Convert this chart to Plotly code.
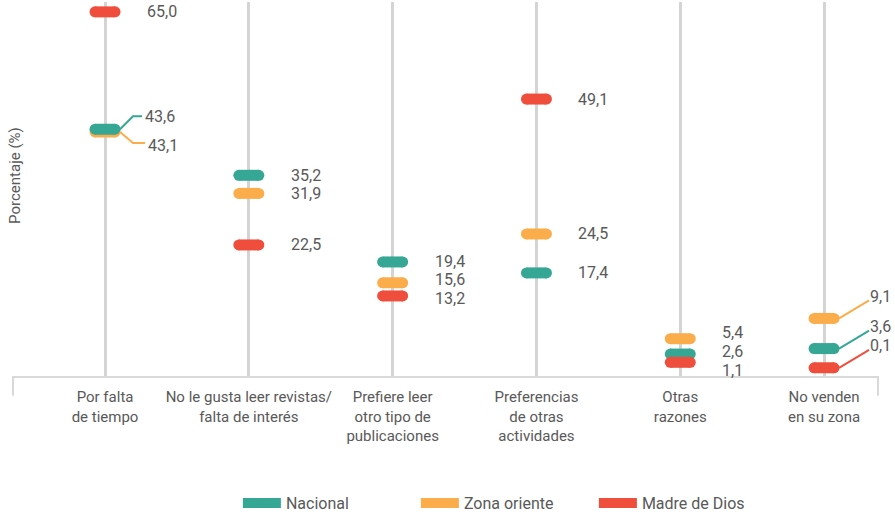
import plotly.graph_objects as go

# ---------------- data ----------------
categories = [
    "Por falta<br>de tiempo",
    "No le gusta leer revistas/<br>falta de interés",
    "Prefiere leer<br>otro tipo de<br>publicaciones",
    "Preferencias<br>de otras<br>actividades",
    "Otras<br>razones",
    "No venden<br>en su zona",
]
series_names = ["Nacional", "Zona oriente", "Madre de Dios"]
nacional = [43.6, 35.2, 19.4, 17.4, 2.6, 3.6]
zona_oriente = [43.1, 31.9, 15.6, 24.5, 5.4, 9.1]
madre_de_dios = [65.0, 22.5, 13.2, 49.1, 1.1, 0.1]
y_title = "Porcentaje (%)"

# ---------------- style ----------------
W, H = 895, 517
ML, MR, MT, MB = 13, 17, 2, 141
XR = [-0.64, 5.375]
YR = [-1.4, 66.8]
PX_X = (W - ML - MR) / (XR[1] - XR[0])   # pixels per x unit
PX_Y = (H - MT - MB) / (YR[1] - YR[0])   # pixels per y unit

FONT = "Roboto, Lato, sans-serif"
TXT = "#595959"
colors = {"Nacional": "#36a795", "Zona oriente": "#fbad4b", "Madre de Dios": "#ef4e3c"}
values = {"Nacional": nacional, "Zona oriente": zona_oriente, "Madre de Dios": madre_de_dios}

def fmt(v):
    return f"{v:.1f}".replace(".", ",")

# label placement tweaks (pixel shifts) and leader lines
label_shift = {
    ("Zona oriente", 2): 3, ("Madre de Dios", 2): -3,
    ("Zona oriente", 4): 6, ("Nacional", 4): 3, ("Madre de Dios", 4): -8,
}
# leader: list of pixel points relative to marker center, label offset (dx, dy)
leaders = {
    ("Nacional", 0): ([(15, 0), (28, 13), (37, 13)], (38, 13)),
    ("Zona oriente", 0): ([(15, 0), (28, -11), (40, -11)], (41, -14)),
    ("Zona oriente", 5): ([(15, 0), (45, 18)], (44, 22)),
    ("Nacional", 5): ([(15, 0), (45, 18)], (44, 22)),
    ("Madre de Dios", 5): ([(15, 0), (45, 18)], (44, 22)),
}

fig = go.Figure()

half = 10 / PX_X  # half length of pill core
draw_order = ["Zona oriente", "Nacional", "Madre de Dios"]
for name in draw_order:
    xs, ys = [], []
    for i, v in enumerate(values[name]):
        xs += [i - half, i + half, None]
        ys += [v, v, None]
    fig.add_trace(go.Scatter(
        x=xs, y=ys, mode="lines+markers",
        line=dict(color=colors[name], width=11),
        marker=dict(color=colors[name], size=11),
        showlegend=False, hoverinfo="skip", cliponaxis=False,
    ))

# leader lines
for (name, i), (pts, _) in leaders.items():
    v = values[name][i]
    fig.add_trace(go.Scatter(
        x=[i + dx / PX_X for dx, dy in pts],
        y=[v + dy / PX_Y for dx, dy in pts],
        mode="lines", line=dict(color=colors[name], width=2),
        showlegend=False, hoverinfo="skip", cliponaxis=False,
    ))

# legend entries
for rank, name in enumerate(series_names):
    fig.add_trace(go.Scatter(
        x=[None], y=[None], mode="lines",
        line=dict(color=colors[name], width=14),
        name=name, legendrank=rank + 1,
    ))

# value labels
annotations = []
for name in series_names:
    for i, v in enumerate(values[name]):
        if (name, i) in leaders:
            dx, dy = leaders[(name, i)][1]
        else:
            dx, dy = 40, label_shift.get((name, i), 0)
        annotations.append(dict(
            x=i, y=v, xref="x", yref="y", text=fmt(v), showarrow=False,
            xanchor="left", yanchor="middle", xshift=dx, yshift=dy,
            font=dict(family=FONT, size=16, color=TXT),
        ))

annotations.append(dict(
    x=0.002, y=0.537, xref="paper", yref="paper", text=y_title, showarrow=False,
    textangle=-90, xanchor="center", yanchor="middle",
    font=dict(family=FONT, size=15, color=TXT),
))

shapes = [
    dict(type="line", xref="paper", yref="paper", x0=0, x1=0, y0=0, y1=-0.053,
         line=dict(color="#d9d9d9", width=2)),
    dict(type="line", xref="paper", yref="paper", x0=1, x1=1, y0=0, y1=-0.053,
         line=dict(color="#d9d9d9", width=2)),
]

fig.update_layout(
    width=W, height=H,
    margin=dict(l=ML, r=MR, t=MT, b=MB, autoexpand=False),
    paper_bgcolor="white", plot_bgcolor="white",
    font=dict(family=FONT, color=TXT, size=15),
    xaxis=dict(
        range=XR, tickvals=list(range(len(categories))), ticktext=categories,
        showgrid=True, gridcolor="#d4d4d4", gridwidth=3,
        showline=True, linecolor="#d9d9d9", linewidth=2,
        zeroline=False, ticks="", tickangle=0, ticklabelstandoff=6,
        tickfont=dict(family=FONT, size=15, color=TXT),
        fixedrange=True,
    ),
    yaxis=dict(range=YR, showgrid=False, zeroline=False, showticklabels=False,
               showline=False, fixedrange=True),
    showlegend=True,
    legend=dict(orientation="h", x=0.26, xanchor="left", y=-0.34, yanchor="middle",
                entrywidth=125, entrywidthmode="pixels", itemwidth=38,
                font=dict(family=FONT, size=16, color=TXT), bgcolor="rgba(0,0,0,0)"),
    annotations=annotations,
    shapes=shapes,
)

fig.write_html("out.html", config={"displayModeBar": False},
               post_script="document.body.style.margin='0';")
